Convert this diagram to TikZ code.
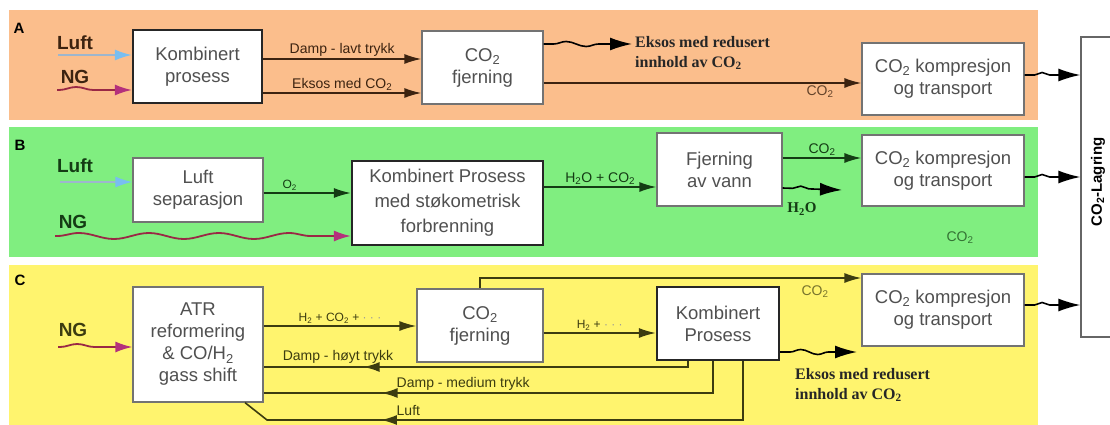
\documentclass[tikz,border=0pt]{standalone}
\usepackage{fontspec}
\setmainfont{Liberation Sans}
\newfontfamily\serifb{Liberation Serif}
\usetikzlibrary{arrows.meta,decorations.pathmorphing,decorations.markings,calc}
\definecolor{bgA}{HTML}{FBBE8C}
\definecolor{bgB}{HTML}{80EE80}
\definecolor{bgC}{HTML}{FFF46E}
\definecolor{lnA}{HTML}{3C2310}
\definecolor{lnB}{HTML}{143C14}
\definecolor{lnC}{HTML}{3C3C10}
\definecolor{txt}{HTML}{505050}
\definecolor{ngred}{HTML}{9A2845}
\definecolor{ngmag}{HTML}{B4307C}
\definecolor{luftl}{HTML}{9DB6CE}
\definecolor{lufth}{HTML}{78BEF0}
\begin{document}
\begin{tikzpicture}[x=1pt,y=-1pt,
  box/.style={draw=black!55, line width=1.2pt, fill=white, text=txt, align=center, inner sep=0pt,
    font=\fontsize{18.5}{22}\selectfont},
  thickbox/.style={box, draw=black!85, line width=2.2pt},
  lbl/.style={font=\fontsize{14}{16}\selectfont, inner sep=1.5pt},
  slbl/.style={font=\fontsize{12}{14}\selectfont, inner sep=1.5pt},
  inlbl/.style={font=\bfseries\fontsize{19}{19}\selectfont, inner sep=0pt},
  panlbl/.style={font=\bfseries\fontsize{15}{15}\selectfont, inner sep=0pt},
  exlbl/.style={font=\serifb\bfseries\fontsize{16}{20}\selectfont, align=left, inner sep=0pt, anchor=west},
  flow/.style={line width=1.6pt, -{Latex[length=17pt,width=10pt]}},
  bigflow/.style={line width=1.6pt, draw=black, -{Latex[length=22pt,width=13pt]}},
  ngwave/.style={decorate, decoration={snake, amplitude=3pt, segment length=#1, pre length=2pt, post length=16pt}},
  owave/.style={decorate, decoration={snake, amplitude=2.5pt, segment length=#1, pre length=10pt, post length=24pt}},
  ngarrow/.style={line width=1.8pt, draw=ngred, -{Latex[length=17pt,width=11pt,color=ngmag]}},
  luftarrow/.style={line width=1.8pt, draw=luftl, -{Latex[length=17pt,width=11pt,color=lufth]}},
  midtip/.style={postaction={decorate, decoration={markings, mark=at position #1 with {\arrow{Latex[length=16pt,width=10pt]}}}}}
]
\useasboundingbox (0,0) rectangle (1110,425);
\clip (0,0) rectangle (1110,425);
% panel backgrounds
\fill[bgA] (9,10) rectangle (1038,120);
\fill[bgB] (9,127) rectangle (1038,257);
\fill[bgC] (9,265) rectangle (1038,425);

% storage box
\node[draw=black!60, line width=1.2pt, fill=white, minimum width=44pt, minimum height=300pt, inner sep=0pt] (lag) at (1103,187) {};
\node[rotate=90, font=\bfseries\fontsize{15}{15}\selectfont] (lagtxt) at (1098,182) {CO\textsubscript{2}-Lagring};

% ---------------- Panel A
\node[panlbl] (pA) at (19,28) {A};
\node[inlbl, text=lnA] (luftA) at (75,43) {Luft};
\node[inlbl, text=lnA] (ngA) at (75,77) {NG};
\node[thickbox, minimum width=129pt, minimum height=73pt] (kpA) at (197.5,66.5) {Kombinert\\prosess};
\node[box, minimum width=121pt, minimum height=73pt] (cfA) at (482.5,67.5) {CO\textsubscript{2}\\fjerning};
\node[box, minimum width=162pt, minimum height=72pt] (ctA) at (943,79) {CO\textsubscript{2} kompresjon\\og transport};
\coordinate (luftAs) at (58,55);
\coordinate (ngAs) at (57,90);
\coordinate (exA) at (632,44);
\draw[luftarrow] (luftAs) -- (kpA.west |- luftAs);
\draw[ngarrow, ngwave=55pt] (ngAs) -- (kpA.west |- ngAs);
\draw[flow, draw=lnA] (kpA.east |- 0,59) -- node[lbl, above, text=lnA] {Damp - lavt trykk} (cfA.west |- 0,59);
\draw[flow, draw=lnA] (kpA.east |- 0,93) -- node[lbl, above, text=lnA] {Eksos med CO\textsubscript{2}} (cfA.west |- 0,93);
\draw[bigflow, owave=40pt] (cfA.east |- exA) -- (exA);
\node[exlbl, text=black!85] (exAt) at (635,53) {Eksos med redusert\\innhold av CO\textsubscript{2}};
\draw[flow, draw=lnA] (cfA.east |- 0,83) -- node[lbl, below, pos=0.87, text=lnA!80!bgA] {CO\textsubscript{2}} (ctA.west |- 0,83);
\draw[bigflow, owave=24pt] (ctA.east |- 0,75) -- (lag.west |- 0,75);

% ---------------- Panel B
\node[panlbl] (pB) at (20,145) {B};
\node[inlbl, text=lnB] (luftB) at (75,166) {Luft};
\node[inlbl, text=lnB] (ngB) at (73,222) {NG};
\node[box, minimum width=130pt, minimum height=64pt] (lsB) at (198,190) {Luft\\separasjon};
\node[thickbox, minimum width=191pt, minimum height=84pt, font=\fontsize{18.5}{25}\selectfont] (kpB) at (447.5,203) {Kombinert Prosess\\med støkometrisk\\forbrenning};
\node[box, minimum width=125pt, minimum height=73pt] (fvB) at (719.5,169.5) {Fjerning\\av vann};
\node[box, minimum width=162pt, minimum height=71pt] (ctB) at (943,170.5) {CO\textsubscript{2} kompresjon\\og transport};
\coordinate (luftBs) at (60,182);
\coordinate (ngBs) at (55,236);
\coordinate (h2oB) at (842,190);
\draw[luftarrow] (luftBs) -- (lsB.west |- luftBs);
\draw[ngarrow, ngwave=70pt] (ngBs) -- (kpB.west |- ngBs);
\draw[flow, draw=lnB] (lsB.east |- 0,193) -- node[slbl, above, pos=0.3, text=lnB] {O\textsubscript{2}} (kpB.west |- 0,193);
\draw[flow, draw=lnB] (kpB.east |- 0,187) -- node[lbl, above, text=lnB] {H\textsubscript{2}O + CO\textsubscript{2}} (fvB.west |- 0,187);
\draw[flow, draw=lnB] (fvB.east |- 0,158) -- node[lbl, above, text=lnB] {CO\textsubscript{2}} (ctB.west |- 0,158);
\draw[bigflow, owave=26pt] (fvB.east |- 0,188) -- (h2oB);
\node[font=\serifb\bfseries\fontsize{15}{15}\selectfont, text=lnB] (h2oBt) at (802,209) {H\textsubscript{2}O};
\draw[bigflow, owave=24pt] (ctB.east |- 0,177) -- (lag.west |- 0,177);
\node[lbl, text=lnB!70!bgB] (co2Bt) at (960,238) {CO\textsubscript{2}};

% ---------------- Panel C
\node[panlbl] (pC) at (20,280) {C};
\node[inlbl, text=lnC] (ngC) at (73,330) {NG};
\node[box, minimum width=130pt, minimum height=115pt] (atr) at (198,344.5) {ATR\\reformering\\\& CO/H\textsubscript{2}\\gass shift};
\node[box, minimum width=126pt, minimum height=73pt] (cfC) at (480,325.5) {CO\textsubscript{2}\\fjerning};
\node[thickbox, minimum width=122pt, minimum height=73pt] (kpC) at (718,323.5) {Kombinert\\Prosess};
\node[box, minimum width=162pt, minimum height=72pt] (ctC) at (943,310) {CO\textsubscript{2} kompresjon\\og transport};
\coordinate (ngCs) at (58,347);
\coordinate (exC) at (857,352);
\draw[ngarrow, ngwave=55pt] (ngCs) -- (atr.west |- ngCs);
\draw[flow, draw=lnC] (atr.east |- 0,326) -- node[slbl, above, text=lnC] {H\textsubscript{2} + CO\textsubscript{2} + \textcolor{black!40}{· · ·}} (cfC.west |- 0,326);
\draw[flow, draw=lnC] (cfC.east |- 0,333) -- node[slbl, above, text=lnC] {H\textsubscript{2} + \textcolor{black!40}{· · ·}} (kpC.west |- 0,333);
\draw[flow, draw=lnC] (cfC.north) -- (cfC.north |- 0,278) -- (ctC.west |- 0,278);
\node[lbl, text=lnC!70!bgC] (co2Ct) at (815,292) {CO\textsubscript{2}};
\draw[bigflow, owave=34pt] (kpC.east |- exC) -- (exC);
\node[exlbl, text=black!85] (exCt) at (795,385) {Eksos med redusert\\innhold av CO\textsubscript{2}};
\draw[bigflow, owave=24pt] (ctC.east |- 0,305) -- (lag.west |- 0,305);
% return lines
\draw[line width=1.6pt, draw=lnC, midtip=-100pt] (kpC.south -| 688,0) |- (atr.east |- 0,367);
\draw[line width=1.6pt, draw=lnC, midtip=-118pt] (kpC.south -| 713,0) |- (atr.east |- 0,393);
\draw[line width=1.6pt, draw=lnC, midtip=-142pt] (kpC.south -| 743,0) |- (267,420) -- (atr.south -| 245,0);
\node[lbl, text=lnC] (dh) at (338,357) {Damp - høyt trykk};
\node[lbl, text=lnC, anchor=west] (dm) at (395,384) {Damp - medium trykk};
\node[lbl, text=lnC, anchor=west] (lu) at (395,410) {Luft};
\end{tikzpicture}
\end{document}
